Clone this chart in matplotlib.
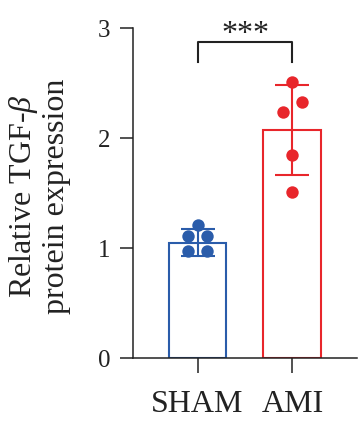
import numpy as np
import matplotlib
matplotlib.use("Agg")
import matplotlib.pyplot as plt

# data
groups = ["SHAM", "AMI"]
means = [1.05, 2.07]
sds = [0.12, 0.41]
sham_points = [1.21, 1.11, 1.11, 0.97, 0.97]
ami_points = [2.51, 2.33, 2.24, 1.85, 1.51]
sham_offsets = [0.0, -0.1, 0.1, -0.1, 0.1]
ami_offsets = [0.0, 0.1, -0.1, 0.0, 0.0]
colors = ["#2A5CAA", "#E8262B"]
sig_label = "***"

plt.rcParams.update({
    "font.family": ["Liberation Serif", "DejaVu Serif"],
    "mathtext.fontset": "custom",
    "mathtext.rm": "Liberation Serif",
    "mathtext.it": "Liberation Serif:italic",
})

fig = plt.figure(figsize=(3.58, 4.26), dpi=100)
ax = fig.add_axes([0.3715, 0.1596, 0.6255, 0.7746])

x = np.arange(len(groups))
for i, (m, sd, c) in enumerate(zip(means, sds, colors)):
    ax.bar(x[i], m, width=0.61, facecolor="white", edgecolor=c, linewidth=1.5, zorder=2)
    ax.errorbar(x[i], m, yerr=sd, color=c, capsize=12, elinewidth=1.5,
                capthick=1.5, fmt="none", zorder=3)

for i, (pts, offs) in enumerate([(sham_points, sham_offsets), (ami_points, ami_offsets)]):
    ax.scatter(x[i] + np.array(offs), pts, s=80, color=colors[i], zorder=4, linewidths=0)

# significance bracket
ax.plot([0, 0, 1, 1], [2.69, 2.87, 2.87, 2.69], color="#222222", lw=1.5, clip_on=False)
ax.text(0.5, 2.81, sig_label, ha="center", va="bottom", fontsize=23, color="#222222")

ax.set_xlim(-0.68, 1.68)
ax.set_ylim(0, 3)
ax.set_yticks([0, 1, 2, 3])
ax.set_xticks(x)
ax.set_xticklabels(groups, fontsize=23)
ax.tick_params(axis="y", labelsize=18, length=9.5, width=1.1, pad=7, colors="#222222")
ax.tick_params(axis="x", length=11, width=1.1, pad=12, colors="#222222")
for s in ["top", "right"]:
    ax.spines[s].set_visible(False)
for s in ["left", "bottom"]:
    ax.spines[s].set_linewidth(1.1)
    ax.spines[s].set_color("#222222")

ax.set_ylabel("Relative TGF-$\\mathit{\\beta}$\nprotein expression", fontsize=23,
              linespacing=1.1, color="#222222")
ax.yaxis.set_label_coords(-0.275, 0.49)

fig.savefig("out.png", dpi=100)
